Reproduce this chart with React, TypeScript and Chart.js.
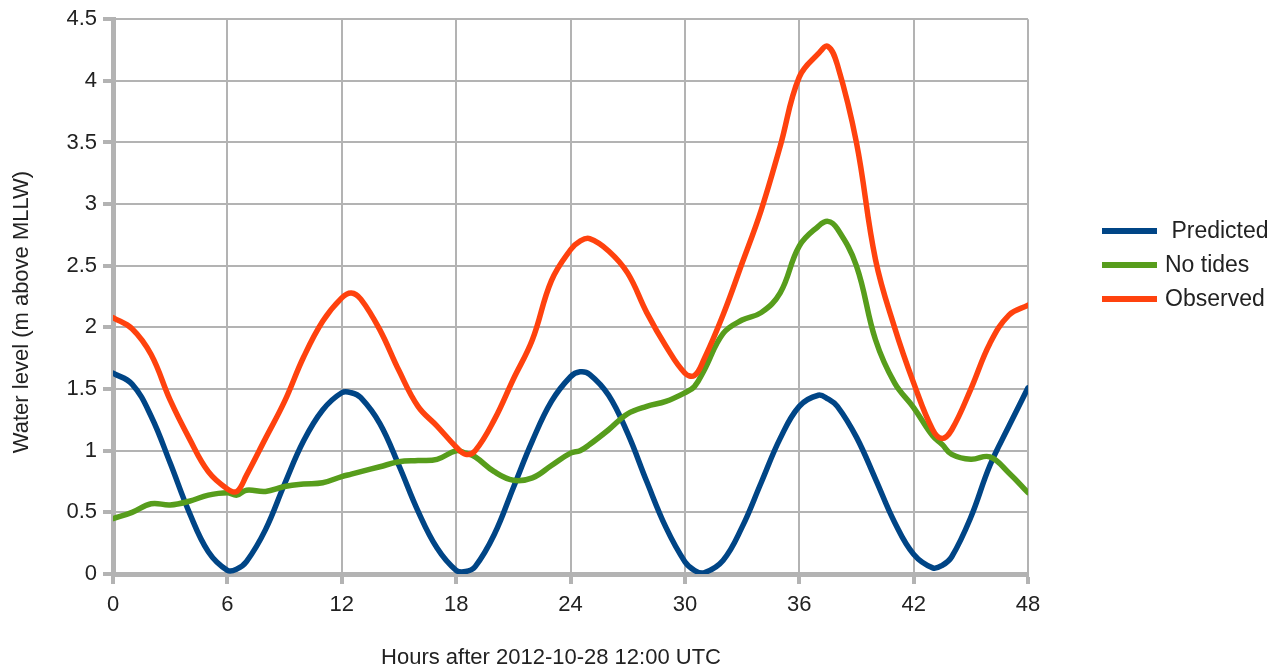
import React, { useEffect, useRef } from "react";
import { Chart, registerables } from "chart.js";

Chart.register(...registerables);

const hours = [
  0, 1, 2, 3, 4, 5, 6, 6.5, 7, 8, 9, 10, 11, 12, 12.5, 13, 14, 15, 16, 17, 18, 18.5, 19, 20, 21,
  22, 23, 24, 24.5, 25, 26, 27, 28, 29, 30, 30.5, 31, 32, 33, 34, 35, 36, 37, 37.5, 38, 39, 40,
  41, 42, 43, 43.5, 44, 45, 46, 47, 48,
];

const predicted = [
  1.63, 1.54, 1.28, 0.9, 0.5, 0.18, 0.03, 0.04, 0.1, 0.36, 0.73, 1.08, 1.33, 1.47, 1.47, 1.43,
  1.22, 0.88, 0.51, 0.21, 0.03, 0.02, 0.06, 0.32, 0.7, 1.08, 1.4, 1.6, 1.64, 1.62, 1.45, 1.14,
  0.75, 0.38, 0.1, 0.03, 0.01, 0.11, 0.38, 0.74, 1.1, 1.36, 1.45, 1.42, 1.36, 1.11, 0.77, 0.42,
  0.16, 0.05, 0.07, 0.14, 0.46, 0.88, 1.2, 1.51,
];

const noTides = [
  0.45, 0.5, 0.57, 0.56, 0.59, 0.64, 0.66, 0.64, 0.68, 0.67, 0.71, 0.73, 0.74, 0.79, 0.81, 0.83,
  0.87, 0.91, 0.92, 0.93, 1.0, 0.98, 0.95, 0.83, 0.76, 0.78, 0.88, 0.98, 1.0, 1.05, 1.17, 1.3,
  1.36, 1.4, 1.47, 1.52, 1.65, 1.95, 2.06, 2.12, 2.28, 2.66, 2.82, 2.86, 2.8, 2.5, 1.9, 1.55,
  1.35, 1.12, 1.05, 0.97, 0.93, 0.95, 0.82, 0.66,
];

const observed = [
  2.08, 1.99, 1.78, 1.41, 1.1, 0.83, 0.69, 0.67, 0.8, 1.1, 1.4, 1.76, 2.05, 2.24, 2.28, 2.23,
  1.98, 1.65, 1.36, 1.2, 1.03, 0.97, 1.0, 1.25, 1.58, 1.9, 2.38, 2.63, 2.7, 2.72, 2.62, 2.44,
  2.12, 1.85, 1.63, 1.61, 1.74, 2.1, 2.52, 2.95, 3.47, 4.03, 4.22, 4.28, 4.13, 3.5, 2.55, 2.0,
  1.55, 1.17, 1.1, 1.17, 1.5, 1.87, 2.1, 2.18,
];

const seriesLabels = [" Predicted", "No tides", "Observed"];
const seriesColors = ["#004586", "#579d1c", "#ff420e"];

const xTitle = "Hours after 2012-10-28 12:00 UTC";
const yTitle = "Water level (m above MLLW)";

const FONT = "'Liberation Sans', Arial, sans-serif";
const GRID = "#b3b3b3";
const TEXT = "#222222";

const decorPlugin = {
  id: "decor",
  afterDraw(chart: any) {
    const ctx = chart.ctx;
    ctx.save();
    // legend
    const x0 = 1102;
    const lineLen = 55;
    const yStart = 231;
    const step = 34;
    ctx.font = `23px ${FONT}`;
    ctx.textBaseline = "middle";
    ctx.textAlign = "left";
    chart.data.datasets.forEach((ds: any, i: number) => {
      const y = yStart + i * step;
      ctx.strokeStyle = ds.borderColor;
      ctx.lineWidth = 6;
      ctx.lineCap = "butt";
      ctx.beginPath();
      ctx.moveTo(x0, y);
      ctx.lineTo(x0 + lineLen, y);
      ctx.stroke();
      ctx.fillStyle = TEXT;
      ctx.fillText(ds.label, x0 + lineLen + 8, y + 1);
    });
    // axis titles
    ctx.font = `22px ${FONT}`;
    ctx.fillStyle = TEXT;
    ctx.textAlign = "center";
    ctx.textBaseline = "alphabetic";
    ctx.fillText(xTitle, 551, 664);
    ctx.translate(28, 312);
    ctx.rotate(-Math.PI / 2);
    ctx.fillText(yTitle, 0, 0);
    ctx.restore();
  },
};

export default function App() {
  const ref = useRef<HTMLCanvasElement | null>(null);

  useEffect(() => {
    if (!ref.current) return;
    const series = [predicted, noTides, observed];
    const chart = new Chart(ref.current, {
      type: "line",
      data: {
        datasets: series.map((vals, i) => ({
          label: seriesLabels[i],
          data: hours.map((h, j) => ({ x: h, y: vals[j] })),
          borderColor: seriesColors[i],
          backgroundColor: seriesColors[i],
          borderWidth: 5.5,
          pointRadius: 0,
          tension: 0.4,
          borderJoinStyle: "round" as const,
          borderCapStyle: "round" as const,
          order: 3 - i,
        })),
      },
      options: {
        animation: false,
        responsive: false,
        layout: { padding: { left: 0, top: 19, right: 247, bottom: 0 } },
        plugins: {
          legend: { display: false },
          tooltip: { enabled: false },
        },
        scales: {
          x: {
            type: "linear",
            min: 0,
            max: 48,
            afterFit: (s: any) => {
              s.height = 92;
            },
            ticks: {
              stepSize: 6,
              color: TEXT,
              padding: 8,
              font: { family: FONT, size: 22 },
            },
            grid: {
              color: GRID,
              lineWidth: 2,
              tickLength: 10,
              tickWidth: 4,
              tickColor: GRID,
            },
            border: { color: GRID, width: 5 },
          },
          y: {
            type: "linear",
            min: 0,
            max: 4.5,
            afterFit: (s: any) => {
              s.width = 113;
            },
            ticks: {
              stepSize: 0.5,
              color: TEXT,
              padding: 6,
              font: { family: FONT, size: 22 },
              callback: (v: any) => String(v),
            },
            grid: {
              color: GRID,
              lineWidth: 2,
              tickLength: 10,
              tickWidth: 4,
              tickColor: GRID,
            },
            border: { color: GRID, width: 5 },
          },
        },
      },
      plugins: [decorPlugin],
    });
    return () => chart.destroy();
  }, []);

  return (
    <div
      style={{
        position: "fixed",
        left: 0,
        top: 0,
        width: 1275,
        height: 666,
        background: "#ffffff",
      }}
    >
      <canvas ref={ref} width={1275} height={666} />
    </div>
  );
}
